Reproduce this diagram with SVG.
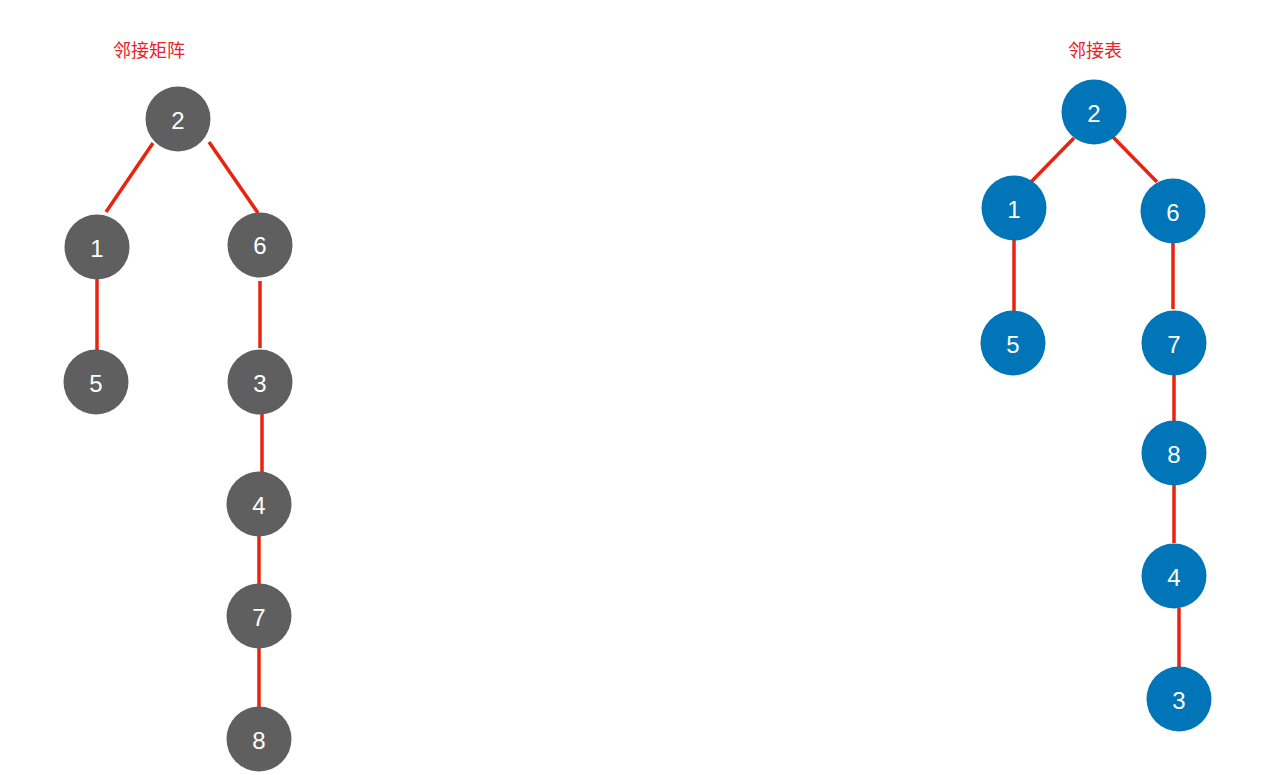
<svg xmlns="http://www.w3.org/2000/svg" width="1281" height="775" viewBox="0 0 1281 775">
<style>
.title{font-family:"Noto Sans CJK SC","Noto Sans",sans-serif;font-size:18px;fill:#e8242b;text-anchor:middle}
.g circle{fill:#5f5f5f}
.b circle{fill:#0075b8}
.n text{font-family:"Liberation Sans",Arial,sans-serif;font-size:24px;fill:#ffffff;text-anchor:middle;dominant-baseline:central}
#connectors line{stroke:#e8230f;stroke-width:3.5;stroke-linecap:butt}
</style>
<rect width="1281" height="775" fill="#ffffff"/>
<text class="title" x="149" y="57">邻接矩阵</text>
<text class="title" x="1095" y="57">邻接表</text>
<g id="connectors">
<line x1="153" y1="143" x2="106" y2="212"/>
<line x1="209" y1="142" x2="258" y2="213"/>
<line x1="97" y1="278" x2="97" y2="351"/>
<line x1="260" y1="281" x2="260" y2="348"/>
<line x1="262" y1="413" x2="262" y2="472"/>
<line x1="259" y1="536" x2="259" y2="585"/>
<line x1="259" y1="647" x2="259" y2="709"/>
<line x1="1074" y1="138" x2="1029" y2="184"/>
<line x1="1112" y1="136" x2="1157" y2="182"/>
<line x1="1014" y1="240" x2="1014" y2="312"/>
<line x1="1173" y1="242" x2="1173" y2="309"/>
<line x1="1174" y1="375" x2="1174" y2="425"/>
<line x1="1174" y1="485" x2="1174" y2="543"/>
<line x1="1179" y1="608" x2="1179" y2="673"/>
</g>
<g id="L2" class="n g"><circle cx="178" cy="119" r="32.5"/><text x="178" y="120">2</text></g>
<g id="L1" class="n g"><circle cx="97" cy="247" r="32.5"/><text x="97" y="248">1</text></g>
<g id="L6" class="n g"><circle cx="260" cy="245" r="32.5"/><text x="260" y="245">6</text></g>
<g id="L5" class="n g"><circle cx="96" cy="382" r="32.5"/><text x="96" y="383">5</text></g>
<g id="L3" class="n g"><circle cx="260" cy="382" r="32.5"/><text x="260" y="383">3</text></g>
<g id="L4" class="n g"><circle cx="259" cy="504" r="32.5"/><text x="259" y="505">4</text></g>
<g id="L7" class="n g"><circle cx="259" cy="616" r="32.5"/><text x="259" y="617">7</text></g>
<g id="L8" class="n g"><circle cx="259" cy="739" r="32.5"/><text x="259" y="740">8</text></g>
<g id="R2" class="n b"><circle cx="1094" cy="112" r="32.5"/><text x="1094" y="113">2</text></g>
<g id="R1" class="n b"><circle cx="1014" cy="208" r="32.5"/><text x="1014" y="209">1</text></g>
<g id="R6" class="n b"><circle cx="1173" cy="211" r="32.5"/><text x="1173" y="212">6</text></g>
<g id="R5" class="n b"><circle cx="1013" cy="343" r="32.5"/><text x="1013" y="344">5</text></g>
<g id="R7" class="n b"><circle cx="1174" cy="343" r="32.5"/><text x="1174" y="344">7</text></g>
<g id="R8" class="n b"><circle cx="1174" cy="453" r="32.5"/><text x="1174" y="454">8</text></g>
<g id="R4" class="n b"><circle cx="1174" cy="576" r="32.5"/><text x="1174" y="577">4</text></g>
<g id="R3" class="n b"><circle cx="1179" cy="699" r="32.5"/><text x="1179" y="700">3</text></g>
</svg>
